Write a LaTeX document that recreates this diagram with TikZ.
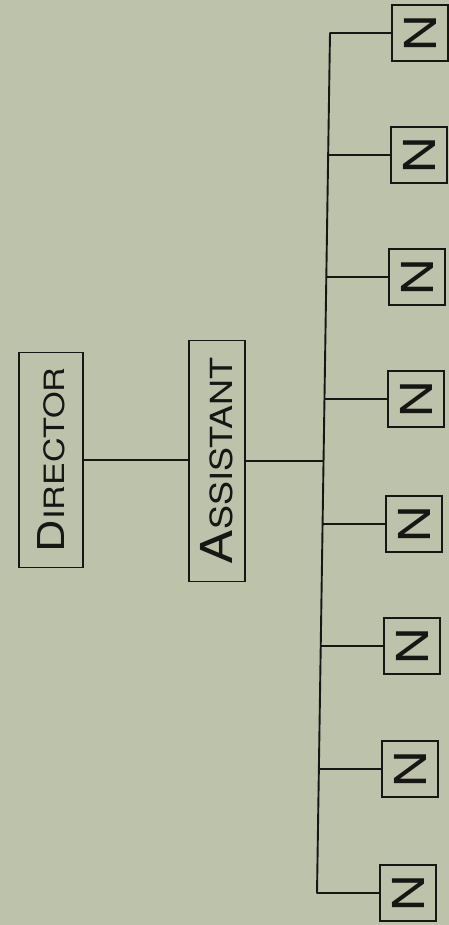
\documentclass[tikz,border=0pt]{standalone}
\usepackage{fontspec}
\setmainfont{TeX Gyre Heros}
\definecolor{paper}{RGB}{189,194,171}
\definecolor{ink}{RGB}{22,22,20}
\newcommand{\bigsmall}[4]{\scalebox{#4}[1]{\fontsize{#1}{#1}\selectfont\ifx\relax#3\relax\else\fi#3}}
\begin{document}
\begin{tikzpicture}[x=1pt,y=-1pt,
  conn/.style={draw=ink,line width=1.9pt},
  bigbox/.style={draw=ink,line width=1.8pt,inner sep=0pt,text=ink},
  nbox/.style={draw=ink,line width=1.8pt,inner sep=0pt,minimum width=56pt,minimum height=56pt,text=ink}]
\fill[paper] (0,0) rectangle (449,925);
\useasboundingbox (0,0) rectangle (449,925);
% Director
\node[bigbox,minimum width=64pt,minimum height=215pt] (dir) at (51,460)
  {\rotatebox{90}{\scalebox{1.22}[1]{\fontsize{37}{37}\selectfont D\fontsize{28}{28}\selectfont IRECTOR}}};
% Assistant
\node[bigbox,minimum width=56pt,minimum height=241pt] (asst) at (217,461)
  {\rotatebox{90}{\scalebox{1.18}[1]{\fontsize{44}{44}\selectfont A\fontsize{30.5}{30.5}\selectfont SSISTANT}}};
% bus coordinates
\coordinate (b1) at (330,33);
\coordinate (b2) at (328.2,155);
\coordinate (b3) at (326.3,277);
\coordinate (b4) at (324.5,399);
\coordinate (bm) at (323.6,461);
\coordinate (b5) at (322.6,524);
\coordinate (b6) at (320.7,646);
\coordinate (b7) at (318.8,769);
\coordinate (b8) at (317,893);
% N boxes
\foreach \i/\x/\y in {1/420/33,2/419/155,3/417/277,4/416/399,5/414/524,6/412/646,7/410/769,8/408/893}{
  \node[nbox] (n\i) at (\x,\y) {\rotatebox{90}{\scalebox{1.15}[1]{\fontsize{44}{44}\selectfont N}}};
}
\draw[conn] (dir.east) -- (dir.east -| asst.west);
\draw[conn] (asst.east |- bm) -- (bm);
\draw[conn,line cap=round] (b1) -- (b8);
\foreach \i in {1,...,8}{
  \draw[conn] (b\i) -- (b\i -| n\i.west);
}
\end{tikzpicture}
\end{document}
